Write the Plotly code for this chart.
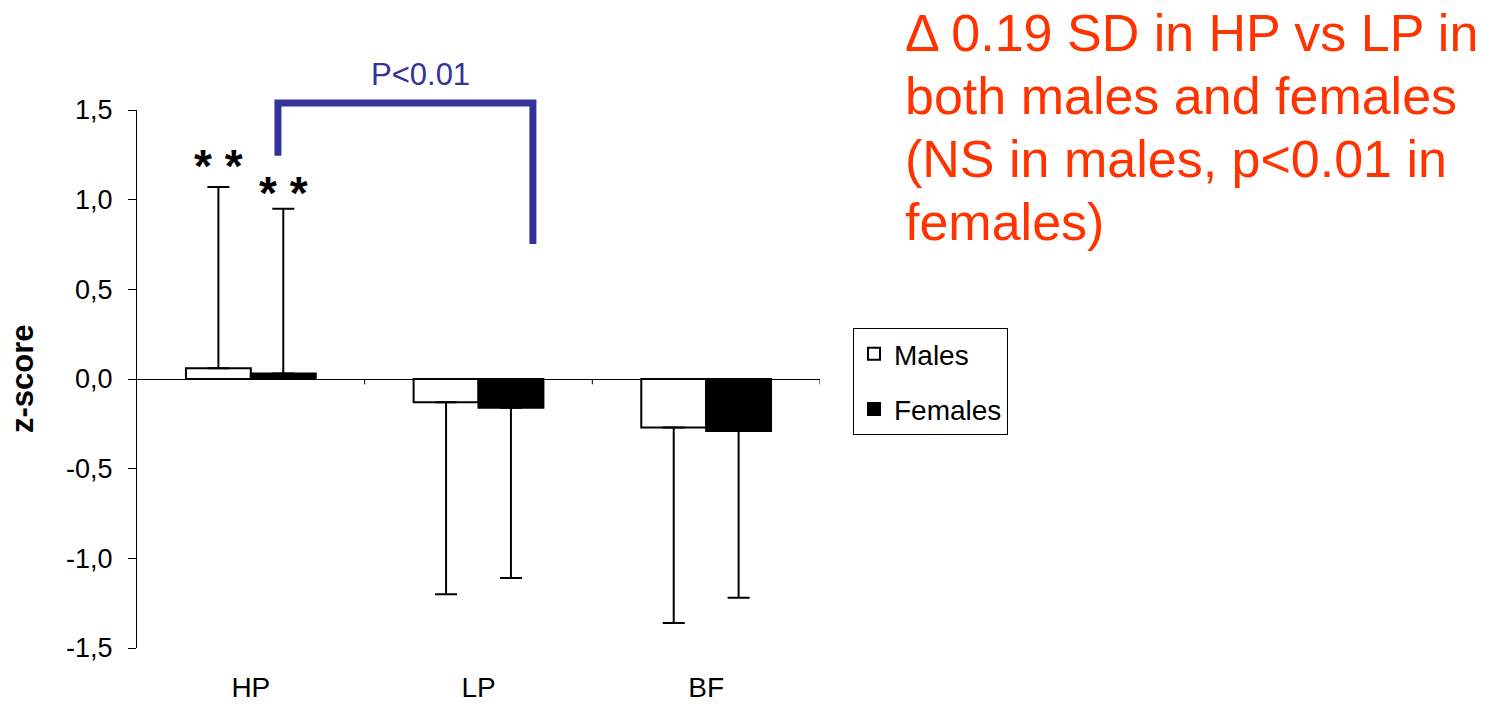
import plotly.graph_objects as go

categories = ["HP", "LP", "BF"]
males = [0.06, -0.13, -0.27]
females = [0.03, -0.16, -0.29]
males_sd = [1.01, 1.07, 1.09]
females_sd = [0.92, 0.95, 0.93]
y_ticks = [1.5, 1.0, 0.5, 0.0, -0.5, -1.0, -1.5]
y_ticklabels = ["1,5", "1,0", "0,5", "0,0", "-0,5", "-1,0", "-1,5"]
note_lines = ["Δ 0.19 SD in HP vs LP in", "both males and females",
              "(NS in males, p<0.01 in", "females)"]

FONT = "Liberation Sans, Arial"

def err(vals, sds):
    plus = [s if v >= 0 else 0 for v, s in zip(vals, sds)]
    minus = [0 if v >= 0 else s for v, s in zip(vals, sds)]
    return plus, minus

mp, mm = err(males, males_sd)
fp, fm = err(females, females_sd)

fig = go.Figure()
fig.add_trace(go.Bar(
    name="Males", x=categories, y=males, legendgroup="m",
    marker=dict(color="white", line=dict(color="black", width=2)),
    error_y=dict(type="data", symmetric=False, array=mp, arrayminus=mm,
                 color="black", thickness=2, width=11),
))
fig.add_trace(go.Bar(
    name="Females", x=categories, y=females, legendgroup="f",
    marker=dict(color="black", line=dict(color="black", width=2)),
    error_y=dict(type="data", symmetric=False, array=fp, arrayminus=fm,
                 color="black", thickness=2, width=11),
))

# tick marks on zero line at category boundaries
shapes = []
for b in [0.5, 1.5, 2.5]:
    shapes.append(dict(type="line", xref="x", yref="y", x0=b, x1=b, y0=0, y1=-0.03,
                       line=dict(color="black", width=1)))
# significance bracket
shapes.append(dict(type="path", xref="x", yref="paper",
                   path="M 0.119,0.915 L 0.119,1.013 L 1.239,1.013 L 1.239,0.751",
                   line=dict(color="#333399", width=7)))

def px_to_paper_x(px):
    return (px - 137) / 683

def px_to_paper_y(py):
    return (648 - py) / 538

annotations = [
    dict(text="P<0.01", x=0.747, y=px_to_paper_y(75), xref="x", yref="paper", showarrow=False,
         xanchor="center", yanchor="middle",
         font=dict(size=31, color="#333399", family=FONT)),
    dict(text="<b>* *</b>", x=-0.143, y=males[0] + males_sd[0], xref="x", yref="y", showarrow=False,
         xanchor="center", yanchor="bottom", yshift=-7,
         font=dict(size=46, color="black", family=FONT)),
    dict(text="<b>* *</b>", x=0.143, y=females[0] + females_sd[0], xref="x", yref="y", showarrow=False,
         xanchor="center", yanchor="bottom", yshift=-12,
         font=dict(size=46, color="black", family=FONT)),
    dict(text="<b>z-score</b>", x=px_to_paper_x(22), y=0.5, xref="paper", yref="paper",
         showarrow=False, textangle=-90, xanchor="center", yanchor="middle",
         font=dict(size=31, color="black", family=FONT)),
]
for i, line in enumerate(note_lines):
    annotations.append(dict(
        text=line, x=px_to_paper_x(903), y=px_to_paper_y(33 + 63 * i),
        xref="paper", yref="paper", showarrow=False, align="left",
        xanchor="left", yanchor="middle",
        font=dict(size=52, color="#FF3300", family=FONT)))

fig.update_layout(
    width=1503, height=706,
    margin=dict(l=137, r=683, t=110, b=58, autoexpand=False),
    paper_bgcolor="white", plot_bgcolor="white",
    barmode="group", bargap=0.43, bargroupgap=0,
    font=dict(family=FONT, color="black", size=22),
    shapes=shapes, annotations=annotations,
    showlegend=True,
    legend=dict(x=px_to_paper_x(853), y=px_to_paper_y(328), xanchor="left", yanchor="top",
                bordercolor="black", borderwidth=1, bgcolor="white",
                font=dict(size=28, color="black"), tracegroupgap=16,
                traceorder="grouped"),
    xaxis=dict(range=[-0.5, 2.5], showline=False, ticks="", showgrid=False, zeroline=False,
               tickfont=dict(size=28), ticklabelstandoff=20, automargin=False),
    yaxis=dict(range=[-1.5, 1.5], tickvals=y_ticks, ticktext=y_ticklabels,
               showline=True, linecolor="black", linewidth=1, ticks="outside",
               ticklen=8, tickcolor="black", showgrid=False,
               zeroline=True, zerolinecolor="black", zerolinewidth=1,
               tickfont=dict(size=27), ticklabelstandoff=10, automargin=False),
)

fig.write_html("out.html")
